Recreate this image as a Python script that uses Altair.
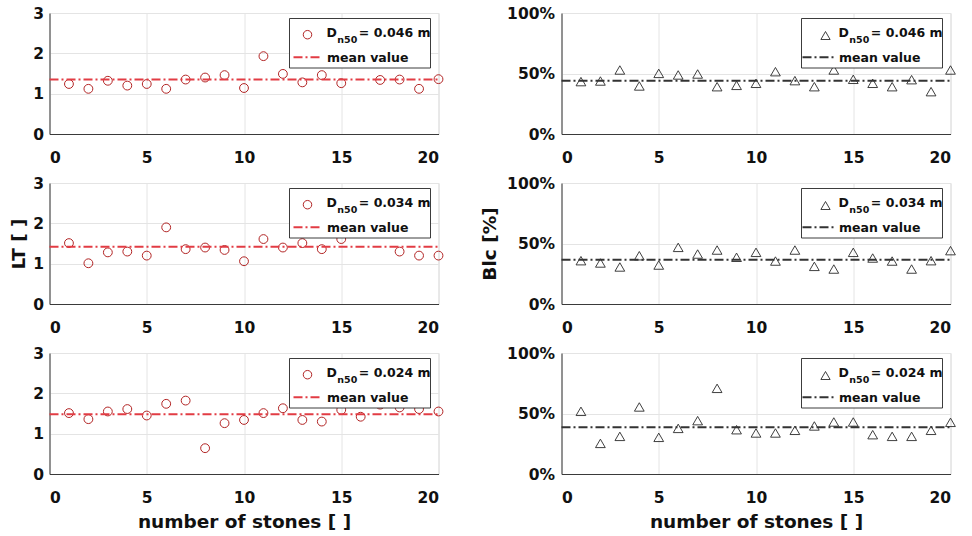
import altair as alt
import pandas as pd

stones = list(range(1, 21))
x_ticks = [0, 5, 10, 15, 20]
lt_ticks = [0, 1, 2, 3]
blc_ticks = [0, 50, 100]
dn50 = ["0.046", "0.034", "0.024"]

lt_046 = [1.24, 1.12, 1.32, 1.20, 1.24, 1.12, 1.35, 1.40, 1.46, 1.14, 1.93, 1.49, 1.28, 1.46, 1.26, 1.82, 1.34, 1.35, 1.12, 1.36]
lt_034 = [1.51, 1.01, 1.28, 1.30, 1.20, 1.90, 1.36, 1.40, 1.34, 1.06, 1.61, 1.40, 1.51, 1.36, 1.61, 1.90, 1.95, 1.30, 1.20, 1.20]
lt_024 = [1.51, 1.36, 1.55, 1.61, 1.45, 1.74, 1.82, 0.64, 1.26, 1.34, 1.51, 1.63, 1.34, 1.30, 1.59, 1.42, 1.72, 1.65, 1.61, 1.55]
blc_046 = [43.3, 43.8, 52.9, 39.7, 50.1, 48.8, 49.6, 39.1, 40.2, 41.9, 51.5, 44.1, 39.1, 52.9, 45.2, 41.9, 39.1, 44.9, 35.0, 52.9]
blc_034 = [35.8, 33.9, 30.6, 39.9, 32.2, 46.8, 41.3, 44.6, 38.6, 42.7, 35.5, 44.6, 31.1, 28.9, 42.7, 38.0, 35.5, 28.9, 35.8, 44.1]
blc_024 = [51.8, 25.3, 31.1, 55.4, 30.3, 37.7, 44.1, 70.8, 36.6, 33.9, 33.9, 36.1, 39.7, 43.0, 43.0, 32.5, 31.1, 31.1, 36.1, 42.7]
lt_mean = [1.35, 1.42, 1.48]
blc_mean = [44.1, 36.6, 38.6]

FONT = "DejaVu Sans"
W, H = 389, 121
TXT = "#111111"


def xenc(show_title):
    ax = dict(values=x_ticks, labelPadding=16, labelBaseline="top")
    if show_title:
        ax.update(title="number of stones [ ]", titleY=53, titleBaseline="alphabetic")
    else:
        ax.update(title=None)
    return alt.X("n:Q", scale=alt.Scale(domain=[0, 20], nice=False, zero=False),
                 axis=alt.Axis(**ax))


def yenc(kind, show_title):
    if kind == "lt":
        ax = dict(values=lt_ticks, labelPadding=6)
        dom = [0, 3]
        ttl, tx = "LT [ ]", -31.5
    else:
        ax = dict(values=blc_ticks, labelPadding=7, labelExpr="datum.value + '%'")
        dom = [0, 100]
        ttl, tx = "Blc [%]", -71.6
    if show_title:
        ax.update(title=ttl, titleX=tx, titleY=H / 2, titleAngle=-90,
                  titleBaseline="middle", titleAlign="center")
    else:
        ax.update(title=None)
    return alt.Y("v:Q", scale=alt.Scale(domain=dom, nice=False, zero=False),
                 axis=alt.Axis(**ax))


def one():
    return pd.DataFrame({"k": [0]})


def panel(values, mean, label, kind, show_x, show_y):
    df = pd.DataFrame({"n": stones, "v": values})
    if kind == "lt":
        pts = alt.Chart(df).mark_point(shape="circle", filled=False, size=78,
                                       color="#b22424", strokeWidth=1, opacity=1)
        line_color = "#e23c44"
        mx, my = 258, 21.7
        lx1, lx2 = 244, 272
    else:
        pts = alt.Chart(df).mark_point(shape="triangle-up", filled=False, size=95,
                                       color="#2a2a2a", strokeWidth=0.9, opacity=1)
        line_color = "#333333"
        mx, my = 264, 22.5
        lx1, lx2 = 241, 275
    pts = pts.encode(x=xenc(show_x), y=yenc(kind, show_y))

    mdf = pd.DataFrame({"n": [0], "n2": [20], "v": [mean]})
    mline = alt.Chart(mdf).mark_rule(color=line_color, strokeWidth=2,
                                     strokeDash=[9, 3, 2, 3]).encode(
        x=xenc(show_x), x2="n2:Q", y=yenc(kind, show_y))

    box = alt.Chart(one()).mark_rect(fill="white", stroke="#262626",
                                     strokeWidth=0.9).encode(
        x=alt.value(240), x2=alt.value(381), y=alt.value(5.5), y2=alt.value(55))
    if kind == "lt":
        sym = alt.Chart(one()).mark_point(shape="circle", filled=False, size=72,
                                          color="#b22424", strokeWidth=1, opacity=1)
    else:
        sym = alt.Chart(one()).mark_point(shape="triangle-up", filled=False, size=85,
                                          color="#2a2a2a", strokeWidth=0.9, opacity=1)
    sym = sym.encode(x=alt.value(mx), y=alt.value(my))
    lline = alt.Chart(one()).mark_rule(color=line_color, strokeWidth=2,
                                       strokeDash=[9, 3, 2, 3]).encode(
        x=alt.value(lx1), x2=alt.value(lx2), y=alt.value(44.3))

    def txt(s, x, y, size):
        return alt.Chart(pd.DataFrame({"t": [s]})).mark_text(
            font=FONT, fontWeight="bold", fontSize=size, color=TXT,
            align="left", baseline="alphabetic").encode(
            x=alt.value(x), y=alt.value(y), text="t:N")

    t1 = txt("D", 277, 24.3, 12.5)
    t2 = txt("n50", 287.8, 30.3, 9.5)
    t3 = txt("= " + label + " m", 309.3, 24.3, 12.5)
    t4 = txt("mean value", 277.5, 48.5, 12.5)

    return alt.layer(pts, mline, box, sym, lline, t1, t2, t3, t4).properties(
        width=W, height=H)


panels = []
for i in range(3):
    lt_vals = [lt_046, lt_034, lt_024][i]
    blc_vals = [blc_046, blc_034, blc_024][i]
    panels.append(panel(lt_vals, lt_mean[i], dn50[i], "lt", i == 2, i == 1))
    panels.append(panel(blc_vals, blc_mean[i], dn50[i], "blc", i == 2, i == 1))

chart = alt.concat(*panels, columns=2,
                   spacing=alt.RowColnumber(row=49, column=123),
                   bounds="flush").properties(
    padding={"left": 8.5, "top": 5, "right": 5, "bottom": 5},
    background="white",
).configure_view(stroke="#dcdcdc", strokeWidth=1).configure_axis(
    labelFont=FONT, labelFontWeight="bold", labelFontSize=15.5, labelColor=TXT,
    titleFont=FONT, titleFontWeight="bold", titleFontSize=18.5, titleColor=TXT,
    domainColor="#3a3a3a", domainWidth=1, ticks=False, tickSize=0,
    grid=True, gridColor="#e4e4e4", gridWidth=1,
)

chart.save("out.html", embed_options={"renderer": "svg", "actions": False})
